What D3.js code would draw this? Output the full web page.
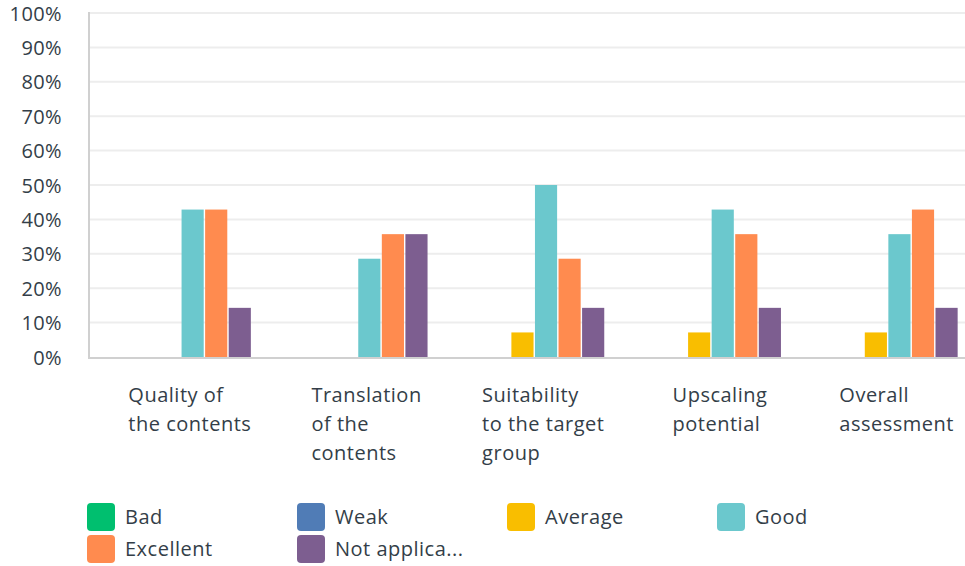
<!DOCTYPE html>
<html><head><meta charset="utf-8">
<script src="https://cdn.jsdelivr.net/npm/d3@7"></script>
<style>
html,body{margin:0;padding:0;background:#fff;}
svg{display:block;font-family:"Open Sans",sans-serif;}
</style></head>
<body><svg id="c" width="965" height="566"></svg>
<script>
const categories = [
  ["Quality of","the contents"],
  ["Translation","of the","contents"],
  ["Suitability","to the target","group"],
  ["Upscaling","potential"],
  ["Overall","assessment"]
];
const seriesNames = ["Bad","Weak","Average","Good","Excellent","Not applica..."];
const seriesColors = ["#00bf6f","#507cb6","#f9be00","#6bc8cd","#ff8b4f","#7d5e90"];
const bad       = [0, 0, 0, 0, 0];
const weak      = [0, 0, 0, 0, 0];
const average   = [0, 0, 7.14, 7.14, 7.14];
const good      = [42.86, 28.57, 50, 42.86, 35.71];
const excellent = [42.86, 35.71, 28.57, 35.71, 42.86];
const notApp    = [14.29, 35.71, 14.29, 14.29, 14.29];
const yTicks = [0,10,20,30,40,50,60,70,80,90,100];

const series = [bad, weak, average, good, excellent, notApp];
const svg = d3.select("#c");
const textColor = "#333e48";

const x = d3.scaleBand().domain(d3.range(categories.length)).range([92.5, 976]).paddingInner(0).paddingOuter(0);
const y = d3.scaleLinear().domain([0,100]).range([357, 13]);
const groupW = 140;
const xs = d3.scaleBand().domain(d3.range(series.length)).range([0, groupW]).paddingInner(0.06);

// grid
svg.append("g").selectAll("line").data(yTicks.slice(1)).join("line")
  .attr("x1", 89).attr("x2", 965)
  .attr("y1", d => y(d)).attr("y2", d => y(d))
  .attr("stroke", "#ededed").attr("stroke-width", 2);

// y axis labels
const yAxis = d3.axisLeft(y).tickValues(yTicks).tickFormat(d => d + "%").tickSize(0).tickPadding(0);
const ya = svg.append("g").attr("transform","translate(62,0)").call(yAxis);
ya.select(".domain").remove();
ya.selectAll("text").attr("fill", textColor).attr("font-size", 20).attr("letter-spacing", 0.4)
  .attr("font-family","'Open Sans',sans-serif").attr("dy","0.35em");

// bars
const groups = svg.append("g").selectAll("g").data(categories).join("g")
  .attr("transform", (d,i) => `translate(${x(i) + (x.bandwidth()-groupW)/2},0)`);
groups.selectAll("rect").data((d,i) => series.map((s,j) => ({v:s[i], j}))).join("rect")
  .attr("x", d => xs(d.j)).attr("width", xs.bandwidth())
  .attr("y", d => y(d.v)).attr("height", d => y(0) - y(d.v))
  .attr("fill", d => seriesColors[d.j]);

// axes lines
svg.append("line").attr("x1",89).attr("x2",89).attr("y1",12).attr("y2",358).attr("stroke","#d0d0d0").attr("stroke-width",2);
svg.append("line").attr("x1",88).attr("x2",965).attr("y1",358).attr("y2",358).attr("stroke","#d0d0d0").attr("stroke-width",2);

// category labels
const labG = svg.append("g");
categories.forEach((lines,i) => {
  const t = labG.append("text").attr("fill", textColor).attr("font-size", 20).attr("letter-spacing", 0.5);
  lines.forEach((ln,k) => t.append("tspan").attr("x", 0).attr("y", 402 + k*29).text(ln));
  const w = t.node().getBBox().width;
  const cx = x(i) + x.bandwidth()/2 + 9;
  t.attr("transform", `translate(${cx - w/2},0)`);
});

// legend
const leg = svg.append("g");
seriesNames.forEach((n,i) => {
  const col = i % 4, row = Math.floor(i/4);
  const gx = 87 + col*210, gy = 503 + row*32;
  leg.append("rect").attr("x", gx).attr("y", gy).attr("width",28).attr("height",28).attr("rx",4).attr("fill", seriesColors[i]);
  leg.append("text").attr("x", gx+38).attr("y", gy+14).attr("dy","0.35em").attr("fill", textColor)
    .attr("font-size",20).attr("letter-spacing",0.5).text(n);
});
</script></body></html>
